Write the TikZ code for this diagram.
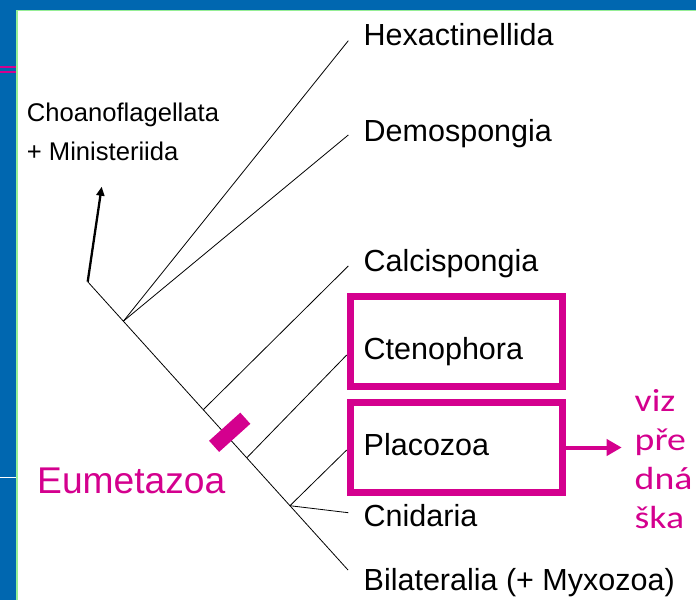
\documentclass[tikz,border=0pt]{standalone}
\usepackage{fontspec}
\setmainfont{Liberation Sans}
\newfontfamily\vizfont[FakeStretch=1.18]{Carlito}
\usepackage{tikz}
\usetikzlibrary{arrows.meta}

\definecolor{slideblue}{RGB}{0,103,176}
\definecolor{slidegreen}{RGB}{150,238,150}
\definecolor{eupink}{RGB}{212,0,142}

\begin{document}
\begin{tikzpicture}[x=1pt, y=-1pt,
    branch/.style={line width=0.8pt},
    taxon/.style={anchor=base west, inner sep=0pt, font=\fontsize{30.5}{36}\selectfont},
    pinkbox/.style={draw=eupink, line width=7.5pt, minimum width=212pt, minimum height=90pt, inner sep=0pt},
    pinktext/.style={anchor=base west, inner sep=0pt, text=eupink}]

    \useasboundingbox (0,0) rectangle (696,600);

    \fill[slideblue] (0,0) rectangle (696,9.5);
    \fill[slideblue] (0,0) rectangle (16,600);
    \draw[slidegreen, line width=1.6pt] (16.8,600) -- (16.8,10.3) -- (696,10.3);
    \draw[eupink, line width=2.2pt] (0,67.2) -- (16,67.2);
    \draw[eupink, line width=2.2pt] (0,72.2) -- (16,72.2);
    \draw[white, line width=1pt] (0,477.7) -- (16,477.7);

    \coordinate (root) at (87.7,281.7);
    \coordinate (bil-end) at (348,570);
    \draw[branch] (root) -- (bil-end)
        coordinate[pos=0.137] (nSpong)
        coordinate[pos=0.444] (nCalc)
        coordinate[pos=0.611] (nCten)
        coordinate[pos=0.777] (nPlac);

    \node[pinkbox] (ctenBox) at (456.3,341.7) {};
    \node[pinkbox] (placBox) at (456.3,447.5) {};

    \foreach \nm/\from/\ex/\ey/\by/\txt in {
        hex/nSpong/348.3/40.7/45/Hexactinellida,
        demo/nSpong/348.3/135/141/Demospongia,
        calc/nCalc/348.3/266/271/Calcispongia,
        cten/nCten/346.7/355/359.5/Ctenophora,
        plac/nPlac/346.7/450/455/Placozoa,
        cnid/nPlac/348.3/512.7/526/Cnidaria%
    } {
        \coordinate (\nm-end) at (\ex,\ey);
        \draw[branch] (\from) -- (\nm-end);
        \node[taxon] (\nm) at (363.5,\by) {\txt};
    }
    \node[taxon] (bil) at (363.5,590) {Bilateralia (+ Myxozoa)};

    \coordinate (choTip) at (101.7,186.7);
    \draw[line width=2.3pt, -{Triangle[length=9pt, width=8pt]}] (root) -- (choTip);
    \node[anchor=base west, inner sep=0pt, align=left, font=\fontsize{25.6}{38.5}\selectfont] (choano) at (26.7,160) {Choanoflagellata\\+ Ministeriida};

    \node[fill=eupink, minimum width=42pt, minimum height=15pt, inner sep=0pt, rotate=42] (eumMark) at (229.7,432.3) {};
    \node[pinktext, font=\fontsize{37.2}{44}\selectfont] (eum) at (37,493.3) {Eumetazoa};

    \node[pinktext, align=left, font=\vizfont\fontsize{32}{38.7}\selectfont] (viz) at (634.5,528) {viz\\pře\\dná\\ška};
    \draw[eupink, line width=4pt, -{Triangle[length=15pt, width=16pt]}, shorten >=12.8pt] (placBox.east) -- (placBox.east -| viz.west);

\end{tikzpicture}
\end{document}
